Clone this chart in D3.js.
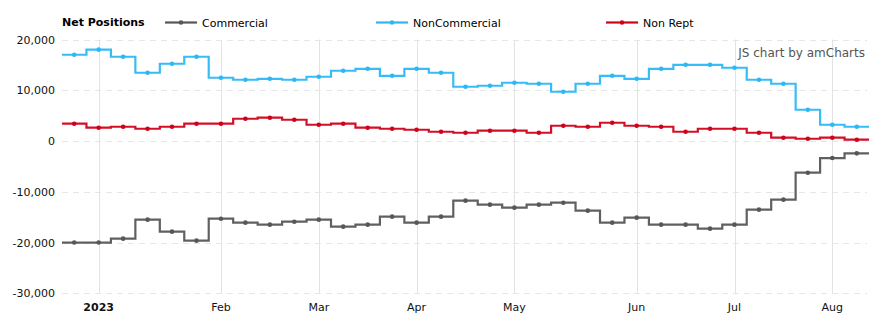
<!DOCTYPE html>
<html><head><meta charset="utf-8">
<script src="https://cdn.jsdelivr.net/npm/d3@7"></script>
<style>
html,body{margin:0;padding:0;background:#fff;}
svg{display:block;font-family:"DejaVu Sans",Verdana,sans-serif;}
</style></head>
<body>
<svg id="chart" width="885" height="327"></svg>
<script>
const dates = ["2022-12-27","2023-01-03","2023-01-10","2023-01-17","2023-01-24","2023-01-31",
"2023-02-07","2023-02-14","2023-02-21","2023-02-28",
"2023-03-07","2023-03-14","2023-03-21","2023-03-28",
"2023-04-04","2023-04-11","2023-04-18","2023-04-25",
"2023-05-02","2023-05-09","2023-05-16","2023-05-23","2023-05-30",
"2023-06-06","2023-06-13","2023-06-20","2023-06-27",
"2023-07-03","2023-07-11","2023-07-18","2023-07-25",
"2023-08-01","2023-08-08"];
const commercial = [-20000,-20000,-19230,-15490,-17850,-19630,-15300,-16080,-16480,-15890,
-15490,-16870,-16480,-14900,-16080,-14900,-11750,-12540,-13130,-12540,-12150,-13720,
-16080,-15100,-16480,-16480,-17260,-16480,-13520,-11550,-6240,-3350,-2430];
const nonCommercial = [17000,18000,16600,13450,15220,16600,12460,12070,12260,12070,
12660,13840,14230,12850,14230,13450,10690,10890,11480,11280,9710,11280,
12850,12260,14230,15020,15020,14430,12070,11280,6160,3210,2810];
const nonRept = [3410,2620,2810,2420,2810,3410,3410,4390,4590,4190,
3210,3410,2620,2420,2220,1830,1630,2030,2030,1630,3010,2810,
3600,3010,2810,1830,2420,2420,1630,650,450,650,260];
const yTicks = [-30000,-20000,-10000,0,10000,20000];
const seriesNames = ["Commercial","NonCommercial","Non Rept"];
const seriesColors = ["#575757","#2bb8f5","#d0021b"];
const legendTitle = "Net Positions";
const credit = "JS chart by amCharts";

const svg = d3.select("#chart");
const pLeft = 62, pRight = 869, pTop = 39.5, pBottom = 293.3;

const x = d3.scaleBand().domain(dates).range([pLeft, pRight]).padding(0);
const y = d3.scaleLinear().domain([-30000, 20000]).range([pBottom, pTop]);
const cx = d => x(d) + x.bandwidth()/2;

// horizontal dashed grid
svg.append("g").selectAll("line").data(yTicks).join("line")
  .attr("x1", pLeft).attr("x2", pRight - 2)
  .attr("y1", d => Math.round(y(d)) + 0.5).attr("y2", d => Math.round(y(d)) + 0.5)
  .attr("stroke", "#e6e6e6").attr("stroke-width", 1).attr("stroke-dasharray", "6,5");

// month gridlines at first data point of each month
const monthFirst = [];
let lastMonth = null;
dates.forEach(d => {
  const m = d.slice(0,7);
  if (m !== lastMonth) { if (lastMonth !== null) monthFirst.push(d); lastMonth = m; }
});
const fmtMonth = d3.timeFormat("%b");
const parse = d3.timeParse("%Y-%m-%d");
svg.append("g").selectAll("line").data(monthFirst).join("line")
  .attr("x1", d => Math.round(cx(d)) + 0.5).attr("x2", d => Math.round(cx(d)) + 0.5)
  .attr("y1", pTop).attr("y2", pBottom)
  .attr("stroke", "#e3e3e3").attr("stroke-width", 1);

// y axis labels
const comma = d3.format(",");
const yAxis = d3.axisLeft(y).tickValues(yTicks).tickSize(0).tickPadding(0)
  .tickFormat(d => comma(d).replace("\u2212", "-"));
const yg = svg.append("g").attr("transform", `translate(55,0)`).call(yAxis);
yg.select(".domain").remove();
yg.selectAll("text").attr("font-size", 11).attr("fill", "#111")
  .attr("font-family", "DejaVu Sans, Verdana, sans-serif");

// x axis labels
const xAxis = d3.axisBottom(x).tickValues(monthFirst).tickSize(0).tickPadding(0)
  .tickFormat(d => { const dt = parse(d); return dt.getMonth() === 0 ? String(dt.getFullYear()) : fmtMonth(dt); });
const xg = svg.append("g").attr("transform", `translate(0,303)`).call(xAxis);
xg.select(".domain").remove();
xg.selectAll("text").attr("font-size", 11).attr("fill", "#111")
  .attr("font-family", "DejaVu Sans, Verdana, sans-serif")
  .attr("font-weight", d => parse(d).getMonth() === 0 ? "bold" : "normal");

// step lines
const allSeries = [commercial, nonCommercial, nonRept];
const stepLine = d3.line().x(p => p[0]).y(p => p[1]).curve(d3.curveStepAfter);
allSeries.forEach((vals, si) => {
  const pts = dates.map((d, i) => [x(d), y(vals[i])]);
  pts.push([x(dates[dates.length-1]) + x.bandwidth(), y(vals[vals.length-1])]);
  svg.append("path").attr("d", stepLine(pts)).attr("fill", "none")
    .attr("stroke", seriesColors[si]).attr("stroke-width", 2.2).attr("stroke-opacity", 0.95);
  svg.append("g").selectAll("circle").data(dates).join("circle")
    .attr("cx", d => cx(d)).attr("cy", (d, i) => y(vals[i])).attr("r", 2.3)
    .attr("fill", seriesColors[si]);
});

// legend
svg.append("text").attr("x", 62).attr("y", 26).attr("font-size", 11).attr("font-weight", "bold")
  .attr("fill", "#000").text(legendTitle);
const legX = [165, 376, 606];
seriesNames.forEach((n, i) => {
  const g = svg.append("g").attr("transform", `translate(${legX[i]},22.5)`);
  g.append("line").attr("x1", 0).attr("x2", 32).attr("y1", 0).attr("y2", 0)
    .attr("stroke", seriesColors[i]).attr("stroke-width", 2.2);
  g.append("circle").attr("cx", 16).attr("cy", 0).attr("r", 2.3).attr("fill", seriesColors[i]);
  g.append("text").attr("x", 37).attr("y", 4).attr("font-size", 11).attr("fill", "#000").text(n);
});

// credit
svg.append("text").attr("x", 865).attr("y", 57).attr("text-anchor", "end")
  .attr("font-size", 12).attr("fill", "#555").text(credit);
</script>
</body></html>
